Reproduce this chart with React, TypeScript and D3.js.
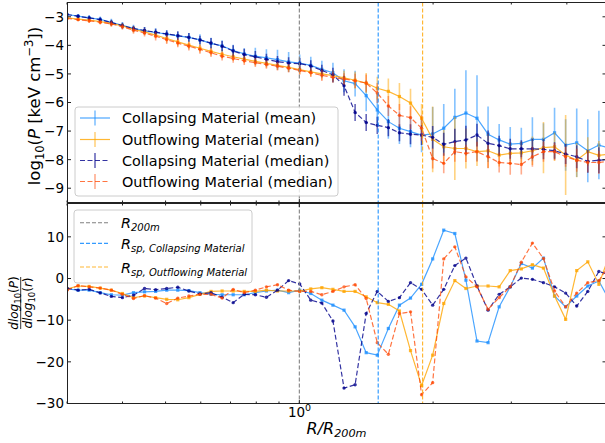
import React from 'react';
import * as d3 from 'd3';

// R/R200m bin centres
const radius = [0.3000, 0.3178, 0.3365, 0.3564, 0.3775, 0.3998, 0.4234, 0.4484, 0.4749, 0.5030,
  0.5327, 0.5642, 0.5975, 0.6328, 0.6702, 0.7098, 0.7517, 0.7961, 0.8432, 0.8930,
  0.9461, 1.0020, 1.0612, 1.1239, 1.1903, 1.2607, 1.3352, 1.4141, 1.4977, 1.5862,
  1.6799, 1.7792, 1.8843, 1.9957, 2.1136, 2.2386, 2.3709, 2.5110, 2.6594, 2.8166,
  2.9831, 3.1594, 3.3461, 3.5439, 3.7533, 3.9752, 4.2101, 4.4589, 4.7225, 5.0020];

// log10(P) profiles
const pCollMean = [-2.92, -2.98, -3.04, -3.09, -3.19, -3.30, -3.40, -3.49, -3.55, -3.61,
  -3.67, -3.72, -3.81, -3.93, -4.02, -4.18, -4.30, -4.38, -4.44, -4.50,
  -4.58, -4.62, -4.70, -4.84, -4.96, -5.24, -5.34, -5.76, -6.26, -6.67,
  -6.90, -7.02, -7.14, -7.10, -6.90, -6.52, -6.37, -6.55, -7.11, -7.31,
  -7.46, -7.43, -7.29, -7.29, -7.06, -7.49, -7.41, -7.69, -7.49, -7.60];
const eCollMean = [0.08, 0.08, 0.1, 0.1, 0.12, 0.12, 0.12, 0.13, 0.15, 0.15,
  0.15, 0.15, 0.2, 0.2, 0.2, 0.2, 0.2, 0.3, 0.3, 0.35,
  0.35, 0.3, 0.3, 0.3, 0.35, 0.4, 0.45, 0.55, 0.55, 0.6,
  0.55, 0.55, 0.6, 0.94, 0.85, 1.0, 1.5, 1.5, 0.97, 0.56,
  0.6, 0.55, 0.77, 0.56, 0.88, 0.9, 1.2, 1.1, 1.2, 1.1];

const pOutMean = [-3.04, -3.08, -3.12, -3.17, -3.23, -3.32, -3.44, -3.53, -3.64, -3.76,
  -3.88, -3.99, -4.10, -4.21, -4.31, -4.40, -4.48, -4.56, -4.63, -4.70,
  -4.77, -4.85, -4.93, -5.00, -5.06, -5.14, -5.22, -5.32, -5.50, -5.61,
  -5.79, -6.02, -6.55, -7.29, -7.55, -7.61, -7.61, -7.72, -7.69, -7.84,
  -7.78, -7.76, -7.69, -7.58, -7.55, -7.84, -8.02, -7.72, -7.85, -7.80];
const eOutMean = [0.06, 0.06, 0.08, 0.08, 0.1, 0.1, 0.12, 0.12, 0.12, 0.15,
  0.15, 0.15, 0.15, 0.15, 0.15, 0.15, 0.15, 0.15, 0.15, 0.15,
  0.15, 0.15, 0.15, 0.2, 0.2, 0.25, 0.3, 0.35, 0.4, 0.45,
  0.47, 0.5, 0.5, 1.15, 0.6, 1.1, 0.7, 0.5, 0.6, 0.4,
  0.4, 0.4, 0.5, 0.9, 0.5, 1.4, 0.6, 0.5, 0.5, 0.5];

const pCollMed = [-2.92, -2.98, -3.04, -3.10, -3.20, -3.31, -3.41, -3.48, -3.54, -3.60,
  -3.66, -3.72, -3.81, -3.92, -4.03, -4.20, -4.32, -4.40, -4.49, -4.57,
  -4.62, -4.64, -4.72, -4.88, -5.03, -5.41, -6.35, -6.70, -6.80, -6.88,
  -7.06, -7.11, -7.14, -7.22, -7.46, -7.37, -7.31, -7.14, -7.43, -7.51,
  -7.62, -7.62, -7.62, -7.64, -7.69, -7.80, -7.90, -8.06, -8.02, -8.00];
const eCollMed = [0.06, 0.06, 0.08, 0.08, 0.1, 0.1, 0.1, 0.12, 0.12, 0.12,
  0.15, 0.15, 0.15, 0.18, 0.18, 0.2, 0.2, 0.2, 0.2, 0.2,
  0.2, 0.2, 0.2, 0.2, 0.25, 0.35, 0.3, 0.3, 0.3, 0.3,
  0.3, 0.35, 0.35, 0.4, 0.4, 0.45, 0.5, 0.4, 0.45, 0.35,
  0.35, 0.3, 0.35, 0.35, 0.3, 0.35, 0.4, 0.4, 0.45, 0.4];

const pOutMed = [-3.06, -3.10, -3.14, -3.19, -3.25, -3.35, -3.47, -3.57, -3.68, -3.80,
  -3.92, -4.03, -4.14, -4.26, -4.38, -4.46, -4.54, -4.61, -4.67, -4.73,
  -4.80, -4.88, -4.96, -5.05, -5.12, -5.18, -5.24, -5.32, -5.67, -6.12,
  -6.45, -6.53, -6.90, -7.96, -8.13, -7.72, -7.78, -7.72, -7.90, -8.10,
  -8.13, -8.17, -7.90, -7.72, -7.72, -7.90, -8.02, -8.10, -8.10, -8.05];
const eOutMed = [0.06, 0.06, 0.08, 0.08, 0.1, 0.1, 0.12, 0.12, 0.15, 0.15,
  0.15, 0.15, 0.15, 0.15, 0.15, 0.15, 0.15, 0.15, 0.15, 0.15,
  0.15, 0.15, 0.15, 0.2, 0.2, 0.2, 0.25, 0.3, 0.35, 0.35,
  0.4, 0.4, 0.45, 0.35, 0.35, 0.35, 0.3, 0.35, 0.4, 0.35,
  0.4, 0.35, 0.35, 0.35, 0.3, 0.35, 0.4, 0.35, 0.4, 0.4];

// logarithmic slopes dlog10(P)/dlog10(r)
const sCollMean = [-2.5, -2.8, -2.8, -3.4, -3.9, -4.0, -3.4, -3.2, -3.1, -2.8,
  -2.8, -2.9, -3.4, -3.8, -3.9, -3.9, -3.9, -3.4, -3.0, -2.8,
  -3.4, -2.8, -3.6, -5.2, -6.4, -7.6, -11.6, -17.8, -18.4, -12.0,
  -6.4, -4.7, -1.4, 4.7, 11.6, 10.8, -0.4, -15.0, -15.4, -6.8,
  -2.0, 3.6, 2.5, 4.9, -4.2, -6.8, -4.2, -1.8, -0.6, -5.5];
const sOutMean = [-2.5, -1.8, -1.9, -2.3, -2.8, -3.6, -4.6, -4.2, -4.6, -5.0,
  -5.1, -4.6, -3.8, -3.1, -3.0, -3.0, -3.1, -3.1, -2.8, -3.0,
  -3.0, -3.0, -2.5, -2.2, -2.6, -3.1, -3.1, -4.4, -5.8, -6.2,
  -7.8, -17.3, -25.7, -18.4, -6.0, -0.5, -2.4, -1.8, -1.8, -2.0,
  1.9, 2.3, 3.3, 2.5, -4.2, -9.8, 1.9, 4.0, -1.4, 6.0];
const sCollMed = [-2.3, -2.8, -2.6, -3.45, -4.3, -4.6, -4.0, -2.4, -2.7, -2.4,
  -2.1, -3.0, -3.7, -3.4, -4.5, -5.8, -3.8, -3.9, -4.5, -2.8,
  -0.5, -1.3, -5.2, -5.9, -10.2, -26.3, -25.5, -8.4, -3.1, -5.5,
  -4.6, -1.0, -2.6, -6.4, -2.6, 3.1, 4.9, -1.8, -7.6, -3.8,
  -2.0, 0.1, -0.2, -1.0, -2.0, -3.5, -6.6, -3.1, 1.7, 0.8];
const sOutMed = [-2.8, -1.7, -2.0, -2.3, -2.8, -3.8, -4.8, -4.1, -4.7, -6.0,
  -4.7, -4.2, -3.8, -3.8, -4.7, -2.6, -3.4, -2.8, -2.0, -1.5,
  -2.8, -3.1, -3.1, -3.9, -3.1, -2.0, -1.5, -4.8, -15.4, -18.2,
  -8.4, -8.0, -27.9, -25.0, 4.7, 7.6, 0.4, -2.0, -7.4, -4.6,
  -2.0, 3.9, 8.5, 4.8, -3.0, -6.8, -3.5, -1.0, -0.5, 3.5];

const r200m = 1.0;
const rspColl = 1.505;
const rspOut = 1.894;

const topTicks = [-3, -4, -5, -6, -7, -8, -9];
const botTicks = [10, 0, -10, -20, -30];
const xMinorTicks = [0.3, 0.4, 0.5, 0.6, 0.7, 0.8, 0.9, 2, 3, 4];
const xMajorTicks = [1];

const legendTop = [
  'Collapsing Material (mean)',
  'Outflowing Material (mean)',
  'Collapsing Material (median)',
  'Outflowing Material (median)',
];

const FONT = "'DejaVu Sans', sans-serif";
const W = 605, H = 443;
const L = 67.5, R = 606;
const TOP = [2.5, 202.5];
const BOT = [203.5, 403.5];

const x = d3.scaleLog().domain([0.3, 4.9]).range([67, 606]);
const yT = d3.scaleLinear().domain([-9.5, -2.5]).range([TOP[1], TOP[0]]);
const yB = d3.scaleLinear().domain([-30, 18]).range([BOT[1], BOT[0]]);

type Style = { color: string; op: number; dash?: string; ebOp: number; square?: boolean };
const stCollMean: Style = { color: '#1E90FF', op: 0.8, ebOp: 0.55, square: true };
const stOutMean: Style = { color: '#FFA500', op: 0.8, ebOp: 0.5, square: true };
const stCollMed: Style = { color: '#00008B', op: 0.8, dash: '5,2.5', ebOp: 0.6 };
const stOutMed: Style = { color: '#FF4500', op: 0.75, dash: '5,2.5', ebOp: 0.45 };

function Series({ vals, errs, y, st }: { vals: number[]; errs?: number[]; y: any; st: Style }) {
  const line = d3.line<number>().x((_, i) => x(radius[i])).y((d) => y(d));
  return (
    <g>
      {errs && vals.map((v, i) => (
        <line key={'e' + i} x1={x(radius[i])} x2={x(radius[i])} y1={y(v - errs[i])} y2={y(v + errs[i])}
          stroke={st.color} strokeOpacity={st.ebOp} strokeWidth={1.6} />
      ))}
      <path d={line(vals) || ''} fill="none" stroke={st.color} strokeOpacity={st.op} strokeWidth={1.2}
        strokeDasharray={st.dash} />
      {vals.map((v, i) => st.square ? (
        <rect key={'m' + i} x={x(radius[i]) - 1.6} y={y(v) - 1.6} width={3.2} height={3.2} fill={st.color} fillOpacity={st.op} />
      ) : (
        <circle key={'m' + i} cx={x(radius[i])} cy={y(v)} r={1.7} fill={st.color} fillOpacity={st.op} />
      ))}
    </g>
  );
}

function VLines({ y0, y1 }: { y0: number; y1: number }) {
  return (
    <g>
      <line x1={x(r200m)} x2={x(r200m)} y1={y0} y2={y1} stroke="#808080" strokeWidth={1.1} strokeDasharray="4,2" />
      <line x1={x(rspColl)} x2={x(rspColl)} y1={y0} y2={y1} stroke="#1E90FF" strokeOpacity={0.9} strokeWidth={1.2} strokeDasharray="4,2" />
      <line x1={x(rspOut)} x2={x(rspOut)} y1={y0} y2={y1} stroke="#FFA500" strokeOpacity={0.8} strokeWidth={1.2} strokeDasharray="4,2" />
    </g>
  );
}

function Frame({ y0, y1, yScale, ticks, labels }: { y0: number; y1: number; yScale: any; ticks: number[]; labels: boolean }) {
  const fmt = (v: number) => (v < 0 ? '\u2212' + Math.abs(v) : String(v));
  return (
    <g>
      <rect x={L} y={y0} width={R - L} height={y1 - y0} fill="none" stroke="#222" strokeWidth={1} />
      {xMinorTicks.map((t) => (
        <g key={'xm' + t}>
          <line x1={x(t)} x2={x(t)} y1={y0} y2={y0 + 2} stroke="#222" />
          <line x1={x(t)} x2={x(t)} y1={y1} y2={y1 - 2} stroke="#222" />
        </g>
      ))}
      {xMajorTicks.map((t) => (
        <g key={'xM' + t}>
          <line x1={x(t)} x2={x(t)} y1={y0} y2={y0 + 3.5} stroke="#222" />
          <line x1={x(t)} x2={x(t)} y1={y1} y2={y1 - 3.5} stroke="#222" />
        </g>
      ))}
      {ticks.map((t) => (
        <g key={'y' + t}>
          <line x1={L} x2={L + 3.5} y1={yScale(t)} y2={yScale(t)} stroke="#222" />
          <line x1={R} x2={R - 3.5} y1={yScale(t)} y2={yScale(t)} stroke="#222" />
          <text x={64} y={yScale(t)} dy="0.36em" textAnchor="end" fontSize={13.5} fontFamily={FONT} fill="#000">{fmt(t)}</text>
        </g>
      ))}
      {labels && null}
    </g>
  );
}

export default function App() {
  const topH = TOP[1] - TOP[0];
  const botH = BOT[1] - BOT[0];
  const legY = [118, 139.5, 160.5, 181.5];
  const legSt = [stCollMean, stOutMean, stCollMed, stOutMed];
  return (
    <svg width={W} height={H} style={{ position: 'absolute', left: 0, top: 0, background: '#fff' }}
      fontFamily={FONT}>
      <defs>
        <clipPath id="clipT"><rect x={L} y={TOP[0]} width={R - L} height={topH} /></clipPath>
        <clipPath id="clipB"><rect x={L} y={BOT[0]} width={R - L} height={botH} /></clipPath>
      </defs>
      <rect x={0} y={0} width={W} height={H} fill="#fff" />

      {/* top panel */}
      <g clipPath="url(#clipT)">
        <Series vals={pCollMean} errs={eCollMean} y={yT} st={stCollMean} />
        <Series vals={pOutMean} errs={eOutMean} y={yT} st={stOutMean} />
        <Series vals={pCollMed} errs={eCollMed} y={yT} st={stCollMed} />
        <Series vals={pOutMed} errs={eOutMed} y={yT} st={stOutMed} />
        <VLines y0={TOP[0]} y1={TOP[1]} />
      </g>
      <Frame y0={TOP[0]} y1={TOP[1]} yScale={yT} ticks={topTicks} labels={false} />

      {/* top legend */}
      <g>
        <rect x={75} y={107} width={263} height={89} rx={3} fill="#fff" fillOpacity={0.8} stroke="#cccccc" strokeWidth={1} />
        {legendTop.map((lab, i) => {
          const st = legSt[i];
          const yy = legY[i];
          return (
            <g key={lab}>
              <line x1={80} x2={110} y1={yy} y2={yy} stroke={st.color} strokeOpacity={st.op} strokeWidth={1.2} strokeDasharray={st.dash} />
              <line x1={95} x2={95} y1={yy - 7.5} y2={yy + 7.5} stroke={st.color} strokeOpacity={st.ebOp} strokeWidth={1.6} />
              <text x={122} y={yy + 5} fontSize={14.4} fill="#000">{lab}</text>
            </g>
          );
        })}
      </g>

      {/* bottom panel */}
      <g clipPath="url(#clipB)">
        <Series vals={sCollMean} y={yB} st={stCollMean} />
        <Series vals={sOutMean} y={yB} st={stOutMean} />
        <Series vals={sCollMed} y={yB} st={stCollMed} />
        <Series vals={sOutMed} y={yB} st={stOutMed} />
        <VLines y0={BOT[0]} y1={BOT[1]} />
      </g>
      <Frame y0={BOT[0]} y1={BOT[1]} yScale={yB} ticks={botTicks} labels={true} />

      {/* bottom legend */}
      <g>
        <rect x={74} y={210} width={178} height={73} rx={3} fill="#fff" fillOpacity={0.8} stroke="#cccccc" strokeWidth={1} />
        <line x1={80} x2={108} y1={222.7} y2={222.7} stroke="#808080" strokeWidth={1.1} strokeDasharray="4,2" />
        <text x={121} y={228} fontSize={14.4} fontStyle="italic">R<tspan fontSize={10} dy={3}>200m</tspan></text>
        <line x1={80} x2={108} y1={243.3} y2={243.3} stroke="#1E90FF" strokeOpacity={0.9} strokeWidth={1.2} strokeDasharray="4,2" />
        <text x={121} y={248.5} fontSize={14.4} fontStyle="italic">R<tspan fontSize={10} dy={3}>sp, Collapsing Material</tspan></text>
        <line x1={80} x2={108} y1={267} y2={267} stroke="#FFA500" strokeOpacity={0.8} strokeWidth={1.2} strokeDasharray="4,2" />
        <text x={121} y={272.5} fontSize={14.4} fontStyle="italic">R<tspan fontSize={10} dy={3}>sp, Outflowing Material</tspan></text>
      </g>

      {/* x tick label and axis label */}
      <text x={299.5} y={417} textAnchor="middle" fontSize={13.5}>10<tspan fontSize={9.5} dy={-6}>0</tspan></text>
      <text x={336.5} y={433.5} textAnchor="middle" fontSize={16} fontStyle="italic">R/R<tspan fontSize={11.2} dy={3.5}>200m</tspan></text>

      {/* y labels */}
      <text transform="translate(40,106) rotate(-90)" textAnchor="middle" fontSize={16.5}>
        log<tspan fontSize={11.5} dy={4}>10</tspan><tspan dy={-4}>(</tspan><tspan fontStyle="italic">P</tspan> [keV cm<tspan fontSize={11.5} dy={-7}>{'\u22123'}</tspan><tspan dy={7}>])</tspan>
      </text>
      <text transform="translate(17.5,303) rotate(-90)" textAnchor="middle" fontSize={12} fontStyle="italic">
        dlog<tspan fontSize={8.5} dy={3} fontStyle="normal">10</tspan><tspan dy={-3} fontStyle="normal">(</tspan>P<tspan fontStyle="normal">)</tspan>
      </text>
      <line x1={20.7} x2={20.7} y1={277} y2={329} stroke="#000" strokeWidth={0.8} />
      <text transform="translate(31.5,303) rotate(-90)" textAnchor="middle" fontSize={12} fontStyle="italic">
        dlog<tspan fontSize={8.5} dy={3} fontStyle="normal">10</tspan><tspan dy={-3} fontStyle="normal">(</tspan>r<tspan fontStyle="normal">)</tspan>
      </text>
    </svg>
  );
}
